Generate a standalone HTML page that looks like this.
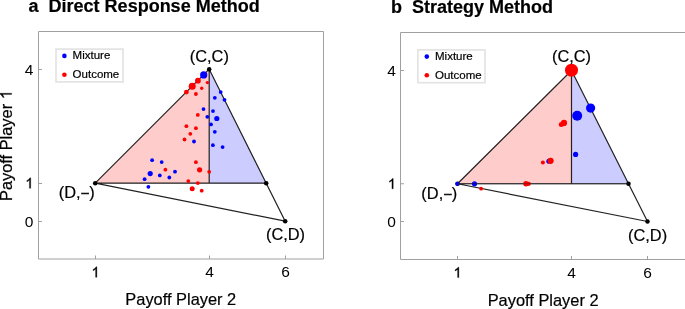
<!DOCTYPE html>
<html><head><meta charset="utf-8"><title>Figure</title><style>
html,body{margin:0;padding:0;background:#fff;}
body{width:685px;height:309px;overflow:hidden;}
svg{display:block;font-family:"Liberation Sans", sans-serif;will-change:transform;}
text{fill:#000;stroke:#000;stroke-width:0.2px;}
text.n{stroke:none;}
</style></head><body>
<svg width="685" height="309" viewBox="0 0 685 309">
<polygon points="95.2,183.2 209.2,69.2 209.2,183.2" fill="#ffcccc"/>
<polygon points="209.2,69.2 266.2,183.2 209.2,183.2" fill="#ccccff"/>
<path d="M38.5,31.5H323.5V259H38.5ZM38.5,221.5h3.5M38.5,183.5h3.5M38.5,69.5h3.5M95.5,259v-3.5M209.5,259v-3.5M285.5,259v-3.5" stroke="#a0a0a0" stroke-width="1" fill="none"/>
<path d="M95.2,183.2L209.2,69.2L285.2,221.2ZM95.2,183.2H266.2M209.2,69.2V183.2" stroke="#222" stroke-width="1.2" fill="none" stroke-linejoin="round"/>
<circle cx="95.2" cy="183.2" r="2.25" fill="#000"/>
<circle cx="209.2" cy="69.2" r="2.25" fill="#000"/>
<circle cx="285.2" cy="221.2" r="2.25" fill="#000"/>
<circle cx="266.2" cy="183.2" r="2.25" fill="#000"/>
<circle cx="203.7" cy="74.9" r="3.6" fill="#0000ff"/>
<circle cx="220.7" cy="92.1" r="1.9" fill="#0000ff"/>
<circle cx="214.8" cy="97.8" r="1.9" fill="#0000ff"/>
<circle cx="224.5" cy="99.8" r="1.9" fill="#0000ff"/>
<circle cx="203.5" cy="109.1" r="1.9" fill="#0000ff"/>
<circle cx="213" cy="111.1" r="1.9" fill="#0000ff"/>
<circle cx="207.3" cy="116.8" r="1.9" fill="#0000ff"/>
<circle cx="216.8" cy="118.5" r="2.6" fill="#0000ff"/>
<circle cx="211" cy="124.4" r="1.9" fill="#0000ff"/>
<circle cx="214.8" cy="131.8" r="1.9" fill="#0000ff"/>
<circle cx="194" cy="141.5" r="1.9" fill="#0000ff"/>
<circle cx="212.9" cy="145.2" r="1.9" fill="#0000ff"/>
<circle cx="222.6" cy="147.1" r="1.9" fill="#0000ff"/>
<circle cx="152.1" cy="160.2" r="1.9" fill="#0000ff"/>
<circle cx="161.7" cy="162.1" r="1.9" fill="#0000ff"/>
<circle cx="175" cy="171.7" r="1.9" fill="#0000ff"/>
<circle cx="150.2" cy="173.6" r="2.6" fill="#0000ff"/>
<circle cx="159.8" cy="175.4" r="1.9" fill="#0000ff"/>
<circle cx="169.3" cy="177.5" r="1.9" fill="#0000ff"/>
<circle cx="144.6" cy="179.2" r="1.9" fill="#0000ff"/>
<circle cx="148.4" cy="186.8" r="1.9" fill="#0000ff"/>
<circle cx="197.9" cy="80.7" r="2.9" fill="#ff0000"/>
<circle cx="207.4" cy="82.6" r="1.7" fill="#ff0000"/>
<circle cx="192.2" cy="86.3" r="3.5" fill="#ff0000"/>
<circle cx="201.7" cy="88.2" r="1.7" fill="#ff0000"/>
<circle cx="186.4" cy="92.1" r="2.4" fill="#ff0000"/>
<circle cx="195.9" cy="94" r="1.9" fill="#ff0000"/>
<circle cx="197.8" cy="114.9" r="1.9" fill="#ff0000"/>
<circle cx="186.4" cy="126.2" r="1.9" fill="#ff0000"/>
<circle cx="195.9" cy="128.2" r="1.9" fill="#ff0000"/>
<circle cx="190.3" cy="133.8" r="1.9" fill="#ff0000"/>
<circle cx="184.5" cy="139.5" r="1.9" fill="#ff0000"/>
<circle cx="195.9" cy="162.2" r="1.9" fill="#ff0000"/>
<circle cx="199.6" cy="169.8" r="2.6" fill="#ff0000"/>
<circle cx="209.2" cy="171.8" r="1.9" fill="#ff0000"/>
<circle cx="188.3" cy="181.1" r="1.9" fill="#ff0000"/>
<circle cx="197.8" cy="183.1" r="1.9" fill="#ff0000"/>
<circle cx="192.2" cy="188.7" r="2.5" fill="#ff0000"/>
<circle cx="201.7" cy="190.7" r="1.9" fill="#ff0000"/>
<circle cx="165.4" cy="169.7" r="1.9" fill="#ff0000"/>
<rect x="56" y="49.1" width="67" height="32.8" fill="#fff" stroke="#e3e3e3" stroke-width="1.7"/>
<circle cx="64.4" cy="55.9" r="2.3" fill="#0000ff"/>
<circle cx="64.4" cy="74.7" r="2.3" fill="#ff0000"/>
<text x="72.6" y="59.4" font-size="11.5">Mixture</text>
<text x="72.6" y="78.1" font-size="11.5">Outcome</text>
<text class="n" x="33.4" y="74.7" font-size="15.5" text-anchor="end">4</text>
<path d="M763 0H583V1147Q518 1085 412 1023Q306 961 223 930V1104Q372 1174 484 1274Q596 1374 643 1466H763Z" transform="translate(25.28,188.3) scale(0.007129,-0.007129)" fill="#000" stroke="#000" stroke-width="42.1"/>
<text class="n" x="33.4" y="226.7" font-size="15.5" text-anchor="end">0</text>
<path d="M763 0H583V1147Q518 1085 412 1023Q306 961 223 930V1104Q372 1174 484 1274Q596 1374 643 1466H763Z" transform="translate(91.44,277.3) scale(0.007129,-0.007129)" fill="#000" stroke="#000" stroke-width="42.1"/>
<text class="n" x="209.5" y="277.3" font-size="15.5" text-anchor="middle">4</text>
<text class="n" x="285.5" y="277.3" font-size="15.5" text-anchor="middle">6</text>
<text x="209.3" y="61.7" font-size="16.4" text-anchor="middle">(C,C)</text>
<text x="76.7" y="197.8" font-size="16.4" text-anchor="middle">(D,<tspan dx="0.95" dy="-0.86" font-size="13" stroke-width="0.5">&#8211;</tspan><tspan dx="0.4" dy="0.86">)</tspan></text>
<text x="285.5" y="240.4" font-size="16.4" text-anchor="middle">(C,D)</text>
<text x="180.8" y="305.2" font-size="16.4" text-anchor="middle">Payoff Player 2</text>
<g transform="translate(11.7,145.6) rotate(-90)"><text x="-55.46" y="0" font-size="16.4">Payoff Player </text><path d="M763 0H583V1147Q518 1085 412 1023Q306 961 223 930V1104Q372 1174 484 1274Q596 1374 643 1466H763Z" transform="translate(46.34,0) scale(0.008008,-0.008008)" fill="#000" stroke="#000" stroke-width="25.0"/></g>
<text x="28.6" y="11.9" font-size="18" font-weight="bold">a</text>
<text x="48.6" y="11.9" font-size="18" font-weight="bold">Direct Response Method</text>
<polygon points="457.5,183.75 571.5,70.5 571.5,183.75" fill="#ffcccc"/>
<polygon points="571.5,70.5 628.5,183.75 571.5,183.75" fill="#ccccff"/>
<path d="M400.5,32.5H686.5V259.5H400.5ZM400.5,221.5h3.5M400.5,183.75h3.5M400.5,70.5h3.5M457.5,259.5v-3.5M571.5,259.5v-3.5M647.5,259.5v-3.5" stroke="#a0a0a0" stroke-width="1" fill="none"/>
<path d="M457.5,183.75L571.5,70.5L647.5,221.5ZM457.5,183.75H628.5M571.5,70.5V183.75" stroke="#222" stroke-width="1.2" fill="none" stroke-linejoin="round"/>
<circle cx="457.5" cy="183.75" r="2.25" fill="#000"/>
<circle cx="571.5" cy="70.5" r="2.25" fill="#000"/>
<circle cx="647.5" cy="221.5" r="2.25" fill="#000"/>
<circle cx="628.5" cy="183.75" r="2.25" fill="#000"/>
<circle cx="590.6" cy="108.1" r="4.6" fill="#0000ff"/>
<circle cx="577.2" cy="115.7" r="5.0" fill="#0000ff"/>
<circle cx="575.6" cy="154.4" r="2.6" fill="#0000ff"/>
<circle cx="548.8" cy="161.3" r="2.5" fill="#0000ff"/>
<circle cx="457.4" cy="183.85" r="2.05" fill="#0000ff"/>
<circle cx="474.5" cy="183.8" r="2.6" fill="#0000ff"/>
<circle cx="571.5" cy="70.2" r="6.5" fill="#ff0000"/>
<circle cx="561.3" cy="124.6" r="2.5" fill="#ff0000"/>
<circle cx="564" cy="122.9" r="3.1" fill="#ff0000"/>
<circle cx="550.6" cy="160.8" r="3.1" fill="#ff0000"/>
<circle cx="542.9" cy="162.6" r="2.0" fill="#ff0000"/>
<circle cx="481.1" cy="188.7" r="1.85" fill="#ff0000"/>
<circle cx="526" cy="183.8" r="2.7" fill="#ff0000"/>
<circle cx="528.8" cy="183.8" r="2.1" fill="#ff0000"/>
<path d="M457.5,183.75H628.5" stroke="#222" stroke-width="1.2" opacity="0.55"/>
<rect x="417.9" y="49.9" width="67.1" height="32.8" fill="#fff" stroke="#e3e3e3" stroke-width="1.7"/>
<circle cx="426.8" cy="56.6" r="2.3" fill="#0000ff"/>
<circle cx="426.8" cy="75.2" r="2.3" fill="#ff0000"/>
<text x="435" y="60" font-size="11.5">Mixture</text>
<text x="435" y="78.8" font-size="11.5">Outcome</text>
<text class="n" x="395.9" y="75.6" font-size="15.5" text-anchor="end">4</text>
<path d="M763 0H583V1147Q518 1085 412 1023Q306 961 223 930V1104Q372 1174 484 1274Q596 1374 643 1466H763Z" transform="translate(387.78,188.85) scale(0.007129,-0.007129)" fill="#000" stroke="#000" stroke-width="42.1"/>
<text class="n" x="395.9" y="226.6" font-size="15.5" text-anchor="end">0</text>
<path d="M763 0H583V1147Q518 1085 412 1023Q306 961 223 930V1104Q372 1174 484 1274Q596 1374 643 1466H763Z" transform="translate(453.44,277.6) scale(0.007129,-0.007129)" fill="#000" stroke="#000" stroke-width="42.1"/>
<text class="n" x="571.5" y="277.6" font-size="15.5" text-anchor="middle">4</text>
<text class="n" x="647.5" y="277.6" font-size="15.5" text-anchor="middle">6</text>
<text x="571.5" y="62.4" font-size="16.4" text-anchor="middle">(C,C)</text>
<text x="439.3" y="198.6" font-size="16.4" text-anchor="middle">(D,<tspan dx="0.95" dy="-0.86" font-size="13" stroke-width="0.5">&#8211;</tspan><tspan dx="0.4" dy="0.86">)</tspan></text>
<text x="647.6" y="241.3" font-size="16.4" text-anchor="middle">(C,D)</text>
<text x="543.1" y="306.4" font-size="16.4" text-anchor="middle">Payoff Player 2</text>
<text x="390.9" y="13.1" font-size="18" font-weight="bold">b</text>
<text x="412" y="13.1" font-size="18" font-weight="bold">Strategy Method</text>
</svg>
</body></html>
